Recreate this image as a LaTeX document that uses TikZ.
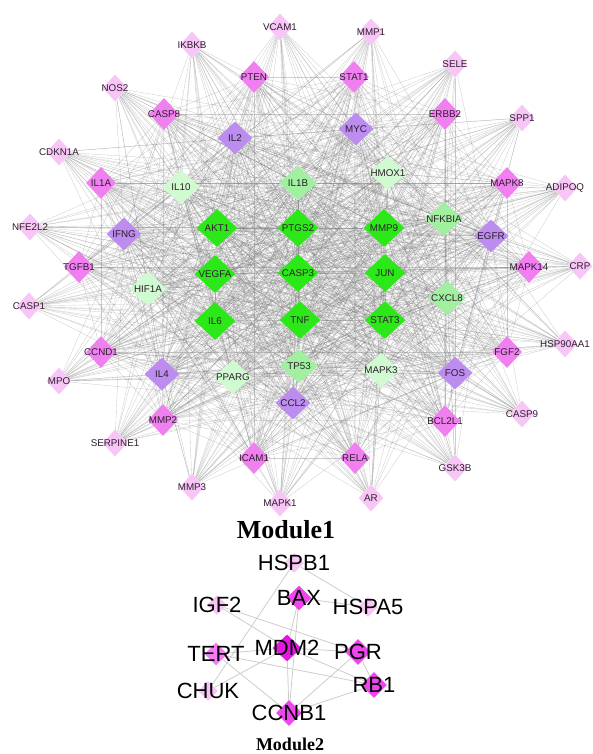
\documentclass[tikz,border=0pt]{standalone}
\usepackage{fontspec}
\setmainfont{Liberation Serif}
\newfontfamily\lsans{Liberation Sans}
\usetikzlibrary{shapes.geometric,backgrounds}

% node fills, from the lowest to the highest degree
\definecolor{outerpink}{RGB}{248,198,246}
\definecolor{midpink}{RGB}{240,128,240}
\definecolor{lilac}{RGB}{188,140,238}
\definecolor{palegreen}{RGB}{208,250,208}
\definecolor{softgreen}{RGB}{160,240,160}
\definecolor{hubgreen}{RGB}{45,232,25}
\definecolor{labeltext}{RGB}{45,30,45}
\definecolor{edgegray}{RGB}{120,120,120}
% module 2 fills
\definecolor{mtwolight}{RGB}{248,196,245}
\definecolor{mtwomid}{RGB}{244,125,244}
\definecolor{mtwostrong}{RGB}{236,70,236}
\definecolor{mtwotop}{RGB}{222,28,222}

\tikzset{
  gene/.style={shape=diamond, inner sep=0pt, draw=none},
  ringA/.style={gene, fill=outerpink, minimum width=25pt, minimum height=27pt},
  ringB/.style={gene, fill=midpink, minimum width=30pt, minimum height=32pt},
  ringC/.style={gene, fill=lilac, minimum width=35pt, minimum height=33pt},
  ringD/.style={gene, fill=palegreen, minimum width=38pt, minimum height=34pt},
  ringE/.style={gene, fill=softgreen, minimum width=38pt, minimum height=34pt},
  hub/.style={gene, fill=hubgreen, minimum width=41pt, minimum height=38pt},
  labone/.style={font=\lsans\fontsize{9.8}{10}\selectfont, text=labeltext, inner sep=0pt},
  labtwo/.style={font=\lsans\fontsize{22}{24}\selectfont, text=black, inner sep=0pt},
  edge/.style={draw=edgegray, draw opacity=0.36, line width=0.35pt},
  edgetwo/.style={draw=black!20, line width=0.8pt},
  title/.style={font=\bfseries, anchor=base, inner sep=0pt},
}

\begin{document}
\begin{tikzpicture}[x=1pt, y=-1pt]
\useasboundingbox (0,0) rectangle (592,754);

% ---------------- Module 1 ----------------
% outer ring
\foreach \n/\px/\py in {VCAM1/280/27, MMP1/371/32, SELE/455/64, SPP1/522/118,
    ADIPOQ/565/188, CRP/580/266, HSP90AA1/565/344, CASP9/522/414, GSK3B/455/468,
    AR/371/498, MAPK1/280/503, MMP3/192/487, SERPINE1/115/443, MPO/59/381,
    CASP1/29/306, NFE2L2/30/227, CDKN1A/59/152, NOS2/115/88, IKBKB/192/45}
  \node[ringA, label={[labone]center:\n}] (\n) at (\px,\py) {};
% second ring
\foreach \n/\px/\py in {PTEN/254/77, STAT1/354/77, ERBB2/445/114, MAPK8/507/183,
    MAPK14/529/267, FGF2/507/352, BCL2L1/445/421, RELA/355/458, ICAM1/254/458,
    MMP2/163/420, CCND1/101/352, TGFB1/79/267, IL1A/101/183, CASP8/164/114}
  \node[ringB, label={[labone]center:\n}] (\n) at (\px,\py) {};
% third ring
\foreach \n/\px/\py in {IL2/235/138, MYC/356/129, EGFR/491/236, FOS/455/373,
    CCL2/293/403, IL4/162/374, IFNG/124/234}
  \node[ringC, label={[labone]center:\n}] (\n) at (\px,\py) {};
% inner ring
\foreach \n/\px/\py in {IL10/181/187, HMOX1/388/173, MAPK3/381/370, PPARG/233/377,
    HIF1A/148/289}
  \node[ringD, label={[labone]center:\n}] (\n) at (\px,\py) {};
\foreach \n/\px/\py in {IL1B/298/183, NFKBIA/444/219, CXCL8/447/298, TP53/299/366}
  \node[ringE, label={[labone]center:\n}] (\n) at (\px,\py) {};
% hub genes
\foreach \n/\px/\py in {AKT1/217/228, PTGS2/298/228, MMP9/384/228, VEGFA/215/274,
    CASP3/298/273, JUN/385/273, IL6/215/321, TNF/300/320, STAT3/385/320}
  \node[hub, label={[labone]center:\n}] (\n) at (\px,\py) {};

\def\ringAlist{VCAM1,MMP1,SELE,SPP1,ADIPOQ,CRP,HSP90AA1,CASP9,GSK3B,AR,MAPK1,MMP3,SERPINE1,MPO,CASP1,NFE2L2,CDKN1A,NOS2,IKBKB}
\def\ringBlist{PTEN,STAT1,ERBB2,MAPK8,MAPK14,FGF2,BCL2L1,RELA,ICAM1,MMP2,CCND1,TGFB1,IL1A,CASP8}
\def\ringClist{IL2,MYC,EGFR,FOS,CCL2,IL4,IFNG}
\def\corelist{IL10,HMOX1,MAPK3,PPARG,HIF1A,IL1B,NFKBIA,CXCL8,TP53,AKT1,PTGS2,MMP9,VEGFA,CASP3,JUN,IL6,TNF,STAT3}
\def\innerlist{IL2,MYC,EGFR,FOS,CCL2,IL4,IFNG,IL10,HMOX1,MAPK3,PPARG,HIF1A,IL1B,NFKBIA,CXCL8,TP53,AKT1,PTGS2,MMP9,VEGFA,CASP3,JUN,IL6,TNF,STAT3}

\begin{pgfonlayer}{background}
  % every inner pair
  \foreach \a [count=\i] in \innerlist {
    \foreach \b [count=\j] in \innerlist {
      \ifnum\j>\i \draw[edge] (\a) -- (\b); \fi
    }
  }
  % second ring to the inner nodes
  \foreach \a in \ringBlist {
    \foreach \b in \innerlist { \draw[edge] (\a) -- (\b); }
  }
  % second ring among itself
  \foreach \a [count=\i] in \ringBlist {
    \foreach \b [count=\j] in \ringBlist {
      \ifnum\j>\i \draw[edge] (\a) -- (\b); \fi
    }
  }
  % outer ring to the core and the third ring
  \foreach \a in \ringAlist {
    \foreach \b in \corelist { \draw[edge] (\a) -- (\b); }
    \foreach \b in \ringClist { \draw[edge] (\a) -- (\b); }
  }
\end{pgfonlayer}

\node[title, font=\bfseries\fontsize{26}{28}\selectfont] (modone) at (286,538) {Module1};

% ---------------- Module 2 ----------------
\node[gene, fill=mtwolight, minimum width=20pt, minimum height=20pt, label={[labtwo]center:HSPB1}] (HSPB1) at (294,563) {};
\node[gene, fill=mtwolight, minimum width=20pt, minimum height=20pt, label={[labtwo]center:IGF2}] (IGF2) at (217,605) {};
\node[gene, fill=mtwolight, minimum width=20pt, minimum height=20pt, label={[labtwo]center:HSPA5}] (HSPA5) at (368,607) {};
\node[gene, fill=mtwolight, minimum width=20pt, minimum height=20pt, label={[labtwo]center:CHUK}] (CHUK) at (208,691) {};
\node[gene, fill=mtwomid, minimum width=23pt, minimum height=23pt, label={[labtwo]center:TERT}] (TERT) at (216,654) {};
\node[gene, fill=mtwostrong, minimum width=25pt, minimum height=25pt, label={[labtwo]center:BAX}] (BAX) at (299,598) {};
\node[gene, fill=mtwostrong, minimum width=26pt, minimum height=26pt, label={[labtwo]center:PGR}] (PGR) at (358,652) {};
\node[gene, fill=mtwostrong, minimum width=26pt, minimum height=26pt, label={[labtwo]center:RB1}] (RB1) at (374,685) {};
\node[gene, fill=mtwostrong, minimum width=26pt, minimum height=26pt, label={[labtwo]center:CCNB1}] (CCNB1) at (289,713) {};
\node[gene, fill=mtwotop, minimum width=29pt, minimum height=27pt, label={[labtwo]center:MDM2}] (MDM2) at (287,648) {};

\begin{pgfonlayer}{background}
  \foreach \a/\b in {HSPB1/HSPA5, HSPB1/CHUK, BAX/HSPA5, BAX/MDM2, BAX/CCNB1,
      IGF2/PGR, IGF2/MDM2, TERT/MDM2, TERT/RB1, TERT/CCNB1, CHUK/MDM2,
      MDM2/PGR, MDM2/CCNB1, MDM2/RB1, PGR/RB1, PGR/CCNB1, RB1/CCNB1}
    \draw[edgetwo] (\a) -- (\b);
\end{pgfonlayer}

\node[title, font=\bfseries\fontsize{18}{20}\selectfont] (modtwo) at (290,750) {Module2};
\end{tikzpicture}
\end{document}
